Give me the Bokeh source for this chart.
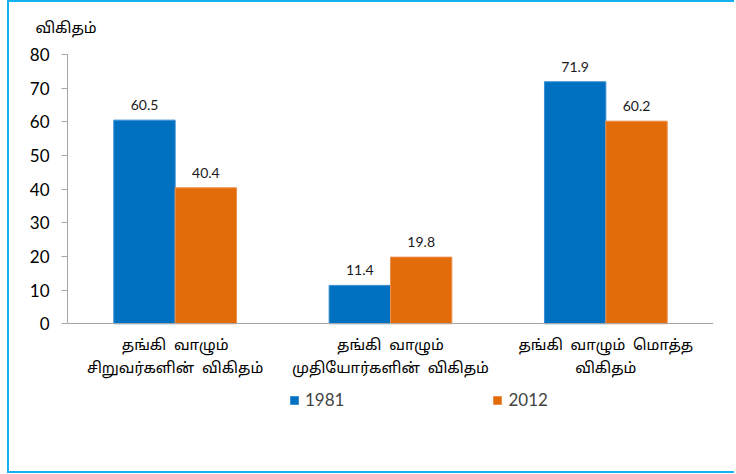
from bokeh.plotting import figure
from bokeh.models import Range1d, FactorRange, Title, Legend, LegendItem, ColumnDataSource
from bokeh.transform import dodge
from bokeh.core.properties import value
from bokeh.embed import file_html
from bokeh.resources import INLINE

S = "\u00a0\u00a0"
categories = ["தங்கி" + S + "வாழும்\nசிறுவர்களின்" + S + "விகிதம்",
              "தங்கி" + S + "வாழும்\nமுதியோர்களின்" + S + "விகிதம்",
              "தங்கி" + S + "வாழும்" + S + "மொத்த\nவிகிதம்"]
series_1981 = [60.5, 11.4, 71.9]
series_2012 = [40.4, 19.8, 60.2]
labels_1981 = ["60.5", "11.4", "71.9"]
labels_2012 = ["40.4", "19.8", "60.2"]
y_ticks = [0, 10, 20, 30, 40, 50, 60, 70, 80]
y_title = "விகிதம்"

TAMIL = "Noto Sans Tamil, Latha, Lato, sans-serif"
NUM = "Lato"

src = ColumnDataSource(dict(cat=categories, a=series_1981, b=series_2012,
                            la=labels_1981, lb=labels_2012))

p = figure(width=727, height=473, output_backend="svg", toolbar_location=None,
           x_range=FactorRange(*categories, range_padding=0),
           y_range=Range1d(-26.07, 80),
           min_border_left=58, min_border_right=23, min_border_top=51, min_border_bottom=64)
p.styles = {"border-left": "2px solid #14B1EE", "border-top": "2px solid #14B1EE",
            "border-bottom": "2px solid #14B1EE", "margin-left": "7px"}
p.outline_line_color = None
p.xgrid.visible = False
p.ygrid.visible = False

p.title = Title(text=y_title, align="left", offset=-32, text_font=TAMIL,
                text_font_size="15px", text_font_style="normal", text_color="#000000",
                standoff=31, text_line_height=0.6)

w = 0.285
r1 = p.vbar(x=dodge("cat", -w / 2, range=p.x_range), top="a", bottom=0, width=w, source=src,
            fill_color="#0070C0", line_color="#3A8ED2", line_width=1)
r2 = p.vbar(x=dodge("cat", w / 2, range=p.x_range), top="b", bottom=0, width=w, source=src,
            fill_color="#E36C0A", line_color="#EC9050", line_width=1)

p.text(x=dodge("cat", -w / 2, range=p.x_range), y="a", text="la", source=src,
       text_align="center", text_baseline="bottom", y_offset=-10,
       text_font=value(NUM), text_font_size="14px", text_color="#1a1a1a")
p.text(x=dodge("cat", w / 2, range=p.x_range), y="b", text="lb", source=src,
       text_align="center", text_baseline="bottom", y_offset=-10,
       text_font=value(NUM), text_font_size="14px", text_color="#1a1a1a")

ax = p.xaxis[0]
ax.fixed_location = 0
ax.axis_line_color = "#A6A6A6"
ax.major_tick_line_color = None
ax.minor_tick_line_color = None
ax.major_label_text_font = TAMIL
ax.major_label_text_font_size = "15px"
ax.major_label_text_color = "#000000"
ax.major_label_standoff = 7

ay = p.yaxis[0]
ay.ticker = y_ticks
ay.bounds = (0, 80)
ay.axis_line_color = "#A6A6A6"
ay.major_tick_line_color = "#A6A6A6"
ay.major_tick_out = 6
ay.major_tick_in = 0
ay.minor_tick_line_color = None
ay.major_label_text_font = NUM
ay.major_label_text_font_size = "17px"
ay.major_label_text_color = "#000000"
ay.major_label_standoff = 12

legend = Legend(items=[LegendItem(label="1981", renderers=[r1]),
                       LegendItem(label="2012", renderers=[r2])],
                orientation="horizontal", location=(222, 1),
                glyph_width=10, glyph_height=10, label_standoff=6, spacing=148,
                label_text_font=NUM, label_text_font_size="17px",
                border_line_color=None, background_fill_alpha=0,
                padding=0, margin=0)
p.add_layout(legend)

open("out.html", "w").write(file_html(p, INLINE))
